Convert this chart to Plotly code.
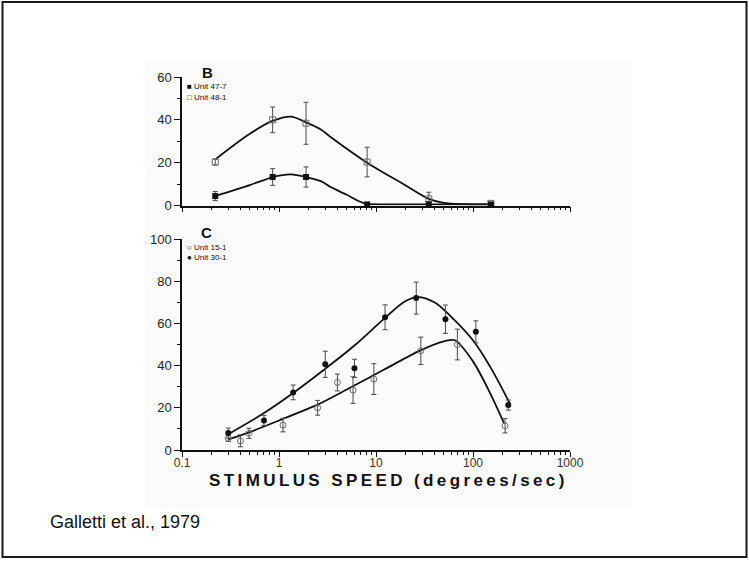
import plotly.graph_objects as go

# ---- Panel B: response vs stimulus speed ----
speed_b = [0.22, 0.86, 1.9, 8.1, 35, 153]
unit_48_1 = [20.3, 40, 38.4, 20.3, 3.1, 1.0]
err_48_1 = [1.4, 6, 9.8, 6.9, 3.1, 0.5]
unit_47_7 = [4.4, 13.3, 13.3, 0.5, 0.5, 0.5]
err_47_7 = [2.1, 3.9, 4.7, 0, 0, 0]

# hand-fitted curves (panel B)
fit_48_1_x = [0.22, 0.5, 0.86, 1.33, 1.9, 2.7, 3.4, 8.1, 19.5, 35, 50, 80, 153]
fit_48_1_y = [21.5, 33.5, 39.5, 41.5, 38.8, 35.5, 32, 20, 9.8, 3.1, 1.2, 0.6, 0.5]
fit_47_7_x = [0.22, 0.5, 0.86, 1.33, 1.9, 2.7, 3.4, 5, 6.5, 8.1, 12, 20, 35, 80, 153]
fit_47_7_y = [4.4, 9.5, 13.3, 14.5, 13.3, 11.4, 8.6, 5, 2.2, 0.7, 0.5, 0.5, 0.5, 0.5, 0.5]

# ---- Panel C ----
speed_30_1 = [0.3, 0.7, 1.4, 3.0, 6.0, 12.4, 26, 52, 107, 231]
unit_30_1 = [8, 14, 27.3, 40.6, 38.7, 62.9, 72, 62, 56, 21.3]
err_30_1 = [2.4, 2.4, 3.5, 6.2, 4.3, 5.9, 7.6, 6.7, 5.2, 2.4]

speed_15_1 = [0.3, 0.4, 0.49, 1.1, 2.5, 4.0, 5.8, 9.5, 29, 69, 214]
unit_15_1 = [5.5, 4.3, 7.9, 11.8, 20, 32, 28.4, 33.6, 47, 50, 11.5]
err_15_1 = [1.5, 2.8, 2.4, 3.2, 3.5, 4, 6.3, 7.3, 6.5, 7.3, 3.4]

fit_30_1_x = [0.3, 0.7, 1.4, 3, 6, 12, 20, 27, 40, 60, 100, 150, 240]
fit_30_1_y = [7.5, 17.5, 27, 38.5, 49.5, 62, 70.5, 72.5, 70, 63, 52, 39.5, 22]
fit_15_1_x = [0.3, 0.5, 1.0, 2.5, 5.4, 12, 28, 50, 65, 100, 150, 210]
fit_15_1_y = [5, 8.5, 14, 21.5, 29.5, 38, 47, 51.5, 52, 42, 27, 12.5]

x_ticks = [0.1, 1, 10, 100, 1000]
x_tick_text = ["0.1", "1", "10", "100", "1000"]
x_minor = [m * d for d in (0.1, 1, 10, 100) for m in range(2, 10)]

W, H = 749, 561
ML, MR, MT, MB = 182, 179, 77, 111
PW, PH = W - ML - MR, H - MT - MB


def px(x):
    return (x - ML) / PW


def py(y):
    return (H - MB - y) / PH


INK = "#111111"
GREY = "#6a6a6a"
ERR = "#4a4a4a"

fig = go.Figure()


def err(vals):
    return dict(type="data", array=vals, visible=True, color=ERR,
                thickness=1, width=2.5)


# fitted curves
fig.add_trace(go.Scatter(x=fit_48_1_x, y=fit_48_1_y, mode="lines",
                         line=dict(color=INK, width=1.8, shape="spline", smoothing=0.9),
                         xaxis="x", yaxis="y", cliponaxis=False))
fig.add_trace(go.Scatter(x=fit_47_7_x, y=fit_47_7_y, mode="lines",
                         line=dict(color=INK, width=1.8, shape="spline", smoothing=0.6),
                         xaxis="x", yaxis="y", cliponaxis=False))
fig.add_trace(go.Scatter(x=fit_30_1_x, y=fit_30_1_y, mode="lines",
                         line=dict(color=INK, width=1.8, shape="spline", smoothing=1),
                         xaxis="x2", yaxis="y2", cliponaxis=False))
fig.add_trace(go.Scatter(x=fit_15_1_x, y=fit_15_1_y, mode="lines",
                         line=dict(color=INK, width=1.8, shape="spline", smoothing=0.8),
                         xaxis="x2", yaxis="y2", cliponaxis=False))

# data points
fig.add_trace(go.Scatter(x=speed_b, y=unit_48_1, mode="markers", error_y=err(err_48_1),
                         marker=dict(symbol="square-open", size=6, color=GREY,
                                     line=dict(width=1, color=GREY)),
                         xaxis="x", yaxis="y", cliponaxis=False))
fig.add_trace(go.Scatter(x=speed_b, y=unit_47_7, mode="markers", error_y=err(err_47_7),
                         marker=dict(symbol="square", size=6, color=INK),
                         xaxis="x", yaxis="y", cliponaxis=False))
fig.add_trace(go.Scatter(x=speed_15_1, y=unit_15_1, mode="markers", error_y=err(err_15_1),
                         marker=dict(symbol="circle-open", size=6, color=GREY,
                                     line=dict(width=1, color=GREY)),
                         xaxis="x2", yaxis="y2", cliponaxis=False))
fig.add_trace(go.Scatter(x=speed_30_1, y=unit_30_1, mode="markers", error_y=err(err_30_1),
                         marker=dict(symbol="circle", size=6, color=INK),
                         xaxis="x2", yaxis="y2", cliponaxis=False))

c_top = py(239)
b_bot = py(205.5)

xcommon = dict(type="log", range=[-1, 3], showgrid=False, zeroline=False,
               showline=True, linecolor=INK, linewidth=1.5,
               ticks="outside", ticklen=5, tickwidth=1.2, tickcolor=INK,
               tickvals=x_ticks, ticktext=x_tick_text,
               minor=dict(tickvals=x_minor, ticks="outside", ticklen=3,
                          tickwidth=1, tickcolor=INK, showgrid=False))
ycommon = dict(showgrid=False, zeroline=False, showline=True, linecolor=INK,
               linewidth=1.5, ticks="outside", ticklen=6, tickwidth=1.2,
               tickcolor=INK, tickfont=dict(family="Liberation Sans, Arial", size=13,
                                           color="#222222"))

fig.update_layout(
    width=W, height=H,
    margin=dict(l=ML, r=MR, t=MT, b=MB),
    paper_bgcolor="white", plot_bgcolor="rgba(0,0,0,0)",
    showlegend=False,
    xaxis=dict(**xcommon, domain=[0, 1], anchor="y", showticklabels=False),
    xaxis2=dict(**xcommon, domain=[0, 1], anchor="y2", matches="x",
                ticklabelstandoff=-4,
                tickfont=dict(family="Liberation Sans, Arial", size=12, color="#333333")),
    yaxis=dict(**ycommon, domain=[b_bot, 1], range=[0, 60], anchor="x",
               tickvals=[0, 20, 40, 60],
               minor=dict(tickvals=[10, 30, 50], ticks="outside", ticklen=3,
                          tickcolor=INK, showgrid=False)),
    yaxis2=dict(**ycommon, domain=[0, c_top], range=[0, 100], anchor="x2",
                tickvals=[0, 20, 40, 60, 80, 100],
                minor=dict(tickvals=[10, 30, 50, 70, 90], ticks="outside", ticklen=3,
                           tickcolor=INK, showgrid=False)),
)

# page frame and the faintly tinted figure area
fig.add_shape(type="rect", xref="paper", yref="paper", layer="below",
              x0=px(145), x1=px(632), y0=py(508), y1=py(60),
              fillcolor="#fbfbfb", line=dict(width=0))
fig.add_shape(type="rect", xref="paper", yref="paper",
              x0=px(2.5), x1=px(746.5), y0=py(557), y1=py(2),
              line=dict(color="#1a1a1a", width=2))

ann_font = dict(family="Liberation Sans, Arial", color="#111111")
annotations = [
    dict(text="<b>B</b>", x=px(207), y=py(72), font=dict(**ann_font, size=15)),
    dict(text="<b>C</b>", x=px(206), y=py(232), font=dict(**ann_font, size=15)),
    dict(text="■ Unit 47-7", x=px(185), y=py(86), xanchor="left",
         font=dict(**ann_font, size=8)),
    dict(text="□ Unit 48-1", x=px(185), y=py(97.5), xanchor="left",
         font=dict(**ann_font, size=8)),
    dict(text="○ Unit 15-1", x=px(185), y=py(247.5), xanchor="left",
         font=dict(**ann_font, size=8)),
    dict(text="● Unit 30-1", x=px(185), y=py(257.5), xanchor="left",
         font=dict(**ann_font, size=8)),
    dict(text='<span style="letter-spacing:3.4px"><b>STIMULUS SPEED (degrees/sec)</b></span>',
         x=px(388), y=py(480), font=dict(**ann_font, size=17)),
    dict(text="Galletti et al., 1979", x=px(48), y=py(522), xanchor="left",
         font=dict(family="Liberation Sans, Arial", size=18, color="#111111")),
]
for a in annotations:
    a.setdefault("xanchor", "center")
    fig.add_annotation(xref="paper", yref="paper", showarrow=False,
                       yanchor="middle", **a)

fig.write_html("out.html")
